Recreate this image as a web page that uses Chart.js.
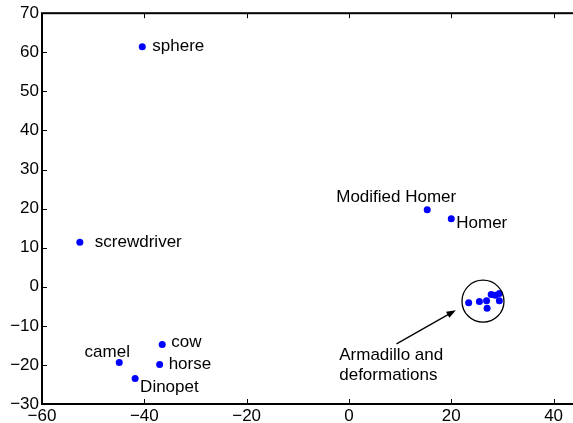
<!DOCTYPE html>
<html>
<head>
<meta charset="utf-8">
<script src="https://cdn.jsdelivr.net/npm/chart.js@4.4.0/dist/chart.umd.min.js"></script>
<style>
  html, body { margin: 0; padding: 0; background: #fff; overflow: hidden; }
  #wrap { width: 573px; height: 423px; overflow: hidden; }
</style>
</head>
<body>
<div id="wrap"><canvas id="chart" width="620" height="423"></canvas></div>
<script>
// labelled shapes
const shapeNames = ['sphere', 'screwdriver', 'Modified Homer', 'Homer', 'camel', 'cow', 'horse', 'Dinopet'];
const shapeX = [-40.4, -52.6, 15.3, 20.0, -44.9, -36.5, -37.0, -41.8];
const shapeY = [61.4, 11.4, 19.7, 17.4, -19.4, -14.8, -19.9, -23.5];

// armadillo and its deformations (the circled cluster)
const armadilloX = [23.4, 25.5, 26.9, 27.0, 27.8, 28.6, 29.4, 29.4];
const armadilloY = [-4.1, -3.8, -3.6, -5.5, -2.0, -2.2, -1.7, -3.6];

const xTicks = [-60, -40, -20, 0, 20, 40];
const yTicks = [-30, -20, -10, 0, 10, 20, 30, 40, 50, 60, 70];

// annotation text
const noteLines = ['Armadillo and', 'deformations'];

// label placement, pixels from the point: [dx, dy, align]
const labelOffsets = [
    [10, 0, 'left'], [15, 0, 'left'], [-31, -12, 'center'], [5, 5, 'left'],
    [-12, -10, 'center'], [9, -2, 'left'], [9, 0, 'left'], [5, 9, 'left']
];

const FAMILY = '"Liberation Sans", Arial, Helvetica, sans-serif';
const FONT = '17px ' + FAMILY;

function toPoints(xs, ys) {
    return xs.map((x, i) => ({ x: x, y: ys[i] }));
}

function fmt(v) {
    return v < 0 ? '\u2212' + Math.abs(v) : String(v);
}

// draws the frame, inward ticks, labels, circle and arrow
const decorPlugin = {
    id: 'decor',
    afterDatasetsDraw(chart) {
        const ctx = chart.ctx;
        const a = chart.chartArea;
        const xs = chart.scales.x;
        const ys = chart.scales.y;
        ctx.save();

        // frame
        ctx.strokeStyle = '#000';
        ctx.lineWidth = 2;
        ctx.strokeRect(a.left, a.top, a.right - a.left, a.bottom - a.top);

        // inward ticks
        ctx.lineWidth = 1;
        ctx.beginPath();
        xTicks.forEach(v => {
            const px = Math.round(xs.getPixelForValue(v)) + 0.5;
            ctx.moveTo(px, a.bottom); ctx.lineTo(px, a.bottom - 5);
            ctx.moveTo(px, a.top); ctx.lineTo(px, a.top + 5);
        });
        yTicks.forEach(v => {
            const py = Math.round(ys.getPixelForValue(v)) + 0.5;
            ctx.moveTo(a.left, py); ctx.lineTo(a.left + 5, py);
            ctx.moveTo(a.right, py); ctx.lineTo(a.right - 5, py);
        });
        ctx.stroke();

        // point labels
        ctx.fillStyle = '#000';
        ctx.font = FONT;
        ctx.textBaseline = 'middle';
        shapeNames.forEach((name, i) => {
            const o = labelOffsets[i];
            ctx.textAlign = o[2];
            ctx.fillText(name, xs.getPixelForValue(shapeX[i]) + o[0], ys.getPixelForValue(shapeY[i]) + o[1]);
        });

        // note text
        ctx.textAlign = 'left';
        const nx = xs.getPixelForValue(-1.9);
        const ny = ys.getPixelForValue(-17.6);
        noteLines.forEach((t, i) => ctx.fillText(t, nx, ny + i * 20));

        // circle around the cluster
        ctx.lineWidth = 1.3;
        ctx.beginPath();
        ctx.arc(xs.getPixelForValue(26.2), ys.getPixelForValue(-3.7), 21, 0, Math.PI * 2);
        ctx.stroke();

        // arrow
        const x0 = xs.getPixelForValue(9.3), y0 = ys.getPixelForValue(-14.6);
        const x1 = xs.getPixelForValue(20.9), y1 = ys.getPixelForValue(-6.0);
        const ang = Math.atan2(y1 - y0, x1 - x0);
        ctx.beginPath();
        ctx.moveTo(x0, y0);
        ctx.lineTo(x1 - 6 * Math.cos(ang), y1 - 6 * Math.sin(ang));
        ctx.stroke();
        ctx.beginPath();
        ctx.moveTo(x1, y1);
        ctx.lineTo(x1 - 10 * Math.cos(ang - 0.35), y1 - 10 * Math.sin(ang - 0.35));
        ctx.lineTo(x1 - 10 * Math.cos(ang + 0.35), y1 - 10 * Math.sin(ang + 0.35));
        ctx.closePath();
        ctx.fill();

        ctx.restore();
    }
};

new Chart(document.getElementById('chart').getContext('2d'), {
    type: 'scatter',
    data: {
        datasets: [
            { data: toPoints(shapeX, shapeY), backgroundColor: '#0000ff', borderColor: '#0000ff', pointRadius: 3.5, borderWidth: 0 },
            { data: toPoints(armadilloX, armadilloY), backgroundColor: '#0000ff', borderColor: '#0000ff', pointRadius: 3.5, borderWidth: 0 }
        ]
    },
    options: {
        responsive: false,
        animation: false,
        devicePixelRatio: 1,
        layout: { padding: { top: 11, right: 0, left: 0, bottom: 0 } },
        plugins: { legend: { display: false }, tooltip: { enabled: false } },
        scales: {
            x: {
                type: 'linear',
                min: -60,
                max: 52.2,
                afterBuildTicks: s => { s.ticks = xTicks.map(v => ({ value: v })); },
                afterFit: s => { s.height = 19; },
                grid: { display: false, drawTicks: false },
                border: { display: false },
                ticks: { color: '#000', font: { family: FAMILY, size: 17 }, padding: 2, maxRotation: 0, callback: v => fmt(v) }
            },
            y: {
                type: 'linear',
                min: -30,
                max: 70,
                afterBuildTicks: s => { s.ticks = yTicks.map(v => ({ value: v })); },
                afterFit: s => { s.width = 42; },
                grid: { display: false, drawTicks: false },
                border: { display: false },
                ticks: { color: '#000', font: { family: FAMILY, size: 17 }, padding: 3, callback: v => fmt(v) }
            }
        }
    },
    plugins: [decorPlugin]
});
</script>
</body>
</html>
